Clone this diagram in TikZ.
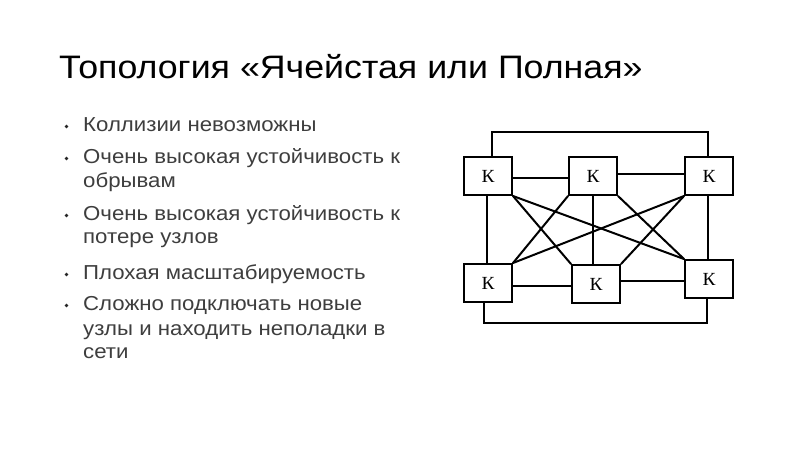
\documentclass[tikz,border=0pt]{standalone}
\usepackage{fontspec}
\setmainfont{Liberation Sans}
\newfontfamily\widesans[FakeStretch=1.1]{Liberation Sans}
\newfontfamily\kserif[FakeStretch=1.05]{Liberation Serif}
\begin{document}
\begin{tikzpicture}[x=1pt,y=-1pt,
  title/.style={anchor=base west,inner sep=0pt,font=\widesans\fontsize{32.5}{38}\selectfont,text=black},
  bodyline/.style={anchor=base west,inner sep=0pt,font=\widesans\fontsize{20.2}{24}\selectfont,text=bodygray},
  kbox/.style={draw,line width=2pt,fill=white,minimum width=48pt,minimum height=38pt,inner sep=0pt,font=\kserif\fontsize{18.5}{20}\selectfont},
  wire/.style={line width=2pt,line cap=round}
]
\definecolor{bodygray}{HTML}{3E3E3E}
\useasboundingbox (0,0) rectangle (800,450);
\fill[white] (0,0) rectangle (800,450);

% title
\node[title] (t) at (59,78.3) {Топология «Ячейстая или Полная»};

% bullets
\foreach \yy in {126.5,158.5,215.5,274.5,305.5}
  \fill[black!85] (66.5,\yy) circle (1.9);
\node[bodyline] (l1) at (83,131) {Коллизии невозможны};
\node[bodyline] (l2) at (83,163) {Очень высокая устойчивость к};
\node[bodyline] (l3) at (83,187) {обрывам};
\node[bodyline] (l4) at (83,220) {Очень высокая устойчивость к};
\node[bodyline] (l5) at (83,243) {потере узлов};
\node[bodyline] (l6) at (83,279) {Плохая масштабируемость};
\node[bodyline] (l7) at (83,310.5) {Сложно подключать новые};
\node[bodyline] (l8) at (83,335.5) {узлы и находить неполадки в};
\node[bodyline] (l9) at (83,358) {сети};

% nodes
\node[kbox] (TL) at (488,176) {К};
\node[kbox] (TM) at (593,176) {К};
\node[kbox] (TR) at (709,176) {К};
\node[kbox] (BL) at (488,283) {К};
\node[kbox] (BM) at (596,284) {К};
\node[kbox] (BR) at (709,279) {К};

\coordinate (topA) at (492,132);
\coordinate (topB) at (708,132);
\coordinate (botA) at (484,323);
\coordinate (botB) at (707,323);

% outer loops
\draw[wire] (TL.north -| topA) |- (topB) -- (TR.north -| topB);
\draw[wire] (BL.south -| botA) |- (botB) -- (BR.south -| botB);

% horizontals
\draw[wire] ([yshift=-2pt]TL.east) -- ([yshift=-2pt]TL.east -| TM.west);
\draw[wire] ([yshift=2pt]TM.east) -- ([yshift=2pt]TM.east -| TR.west);
\draw[wire] ([yshift=-3pt]BL.east) -- ([yshift=-3pt]BL.east -| BM.west);
\draw[wire] ([yshift=3pt]BM.east) -- ([yshift=3pt]BM.east -| BR.west);

% verticals
\draw[wire] ([xshift=-1pt]TL.south) -- ([xshift=-1pt]TL.south |- BL.north);
\draw[wire] (TM.south) -- (TM.south |- BM.north);
\draw[wire] ([xshift=-1pt]TR.south) -- ([xshift=-1pt]TR.south |- BR.north);

% diagonals
\draw[wire] (TL.south east) -- (BM.north west);
\draw[wire] (TL.south east) -- (BR.north west);
\draw[wire] (TM.south west) -- (BL.north east);
\draw[wire] (TM.south east) -- (BR.north west);
\draw[wire] (TR.south west) -- (BL.north east);
\draw[wire] (TR.south west) -- (BM.north east);
\end{tikzpicture}
\end{document}
